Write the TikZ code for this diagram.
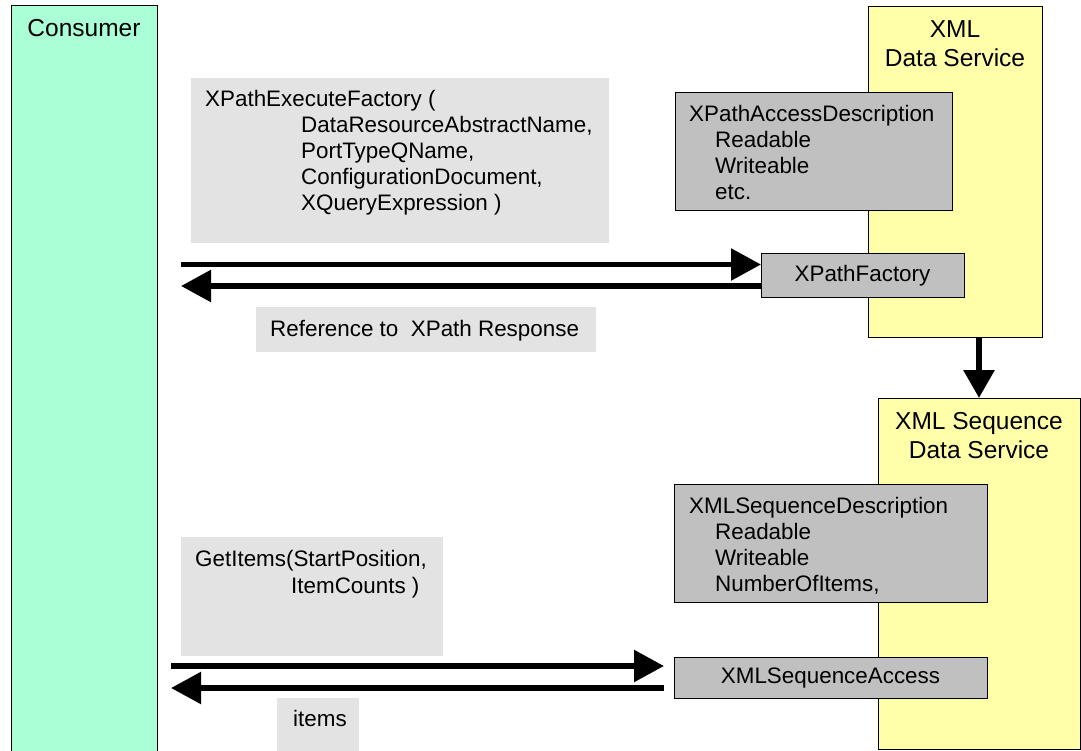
\documentclass[tikz,border=0pt]{standalone}
\usepackage{fontspec}
\setmainfont{Liberation Sans}
\usetikzlibrary{arrows.meta}
\definecolor{mint}{RGB}{170,255,214}
\definecolor{svcyellow}{RGB}{255,255,170}
\definecolor{opgray}{RGB}{192,192,192}
\definecolor{labelgray}{RGB}{227,227,227}
\tikzset{
  boxline/.style={draw=black, line width=1pt, inner sep=0pt, outer sep=0pt, anchor=north west},
  consumerbox/.style={boxline, fill=mint},
  servicebox/.style={boxline, fill=svcyellow},
  opbox/.style={boxline, fill=opgray},
  labelbox/.style={fill=labelgray, inner sep=0pt, outer sep=0pt, anchor=north west},
  bodytext/.style={font=\fontsize{22.4}{26}\selectfont, inner sep=0pt, anchor=base west},
  titletext/.style={font=\fontsize{24.5}{29}\selectfont, inner sep=0pt, anchor=base},
  msg/.style={line width=5.5pt, -{Triangle[length=30pt,width=31pt]}},
}
\begin{document}
\begin{tikzpicture}[x=1pt,y=-1pt]
\path[use as bounding box] (0,0) rectangle (1081,751);
\clip (0,0) rectangle (1081,751);
\fill[white] (0,0) rectangle (1081,751);

% main boxes
\node[consumerbox, minimum width=146pt, minimum height=770pt] (cons) at (11,6) {};
\node[servicebox, minimum width=174pt, minimum height=330pt] (xds) at (868,7) {};
\node[servicebox, minimum width=202pt, minimum height=351pt] (seq) at (878,398) {};

% operation boxes
\node[opbox, minimum width=277pt, minimum height=118pt] (xad) at (675,93) {};
\node[opbox, minimum width=203pt, minimum height=43pt, font=\fontsize{22.4}{26}\selectfont] (xpf) at (761,254) {XPathFactory};
\node[opbox, minimum width=313pt, minimum height=118pt] (xsd) at (674,484) {};
\node[opbox, minimum width=313pt, minimum height=41pt, font=\fontsize{22.4}{26}\selectfont] (xsa) at (674,657) {XMLSequenceAccess};

% label boxes
\node[labelbox, minimum width=418pt, minimum height=165pt] (lab1) at (191,78) {};
\node[labelbox, minimum width=340pt, minimum height=45pt] (lab2) at (256,307) {};
\node[labelbox, minimum width=262pt, minimum height=119pt] (lab3) at (181,537) {};
\node[labelbox, minimum width=82pt, minimum height=70pt] (lab4) at (277,698) {};

% titles
\node[titletext] (tcons) at (84,37) {Consumer};
\node[titletext] (txds1) at (955,38) {XML};
\node[titletext] (txds2) at (955,67) {Data Service};
\node[titletext] (tseq1) at (979,429) {XML Sequence};
\node[titletext] (tseq2) at (979,458) {Data Service};

% description texts
\node[bodytext] (xad1) at (689,122) {XPathAccessDescription};
\node[bodytext] (xad2) at (715,148) {Readable};
\node[bodytext] (xad3) at (715,174) {Writeable};
\node[bodytext] (xad4) at (715,200) {etc.};

\node[bodytext] (xsd1) at (689,513) {XMLSequenceDescription};
\node[bodytext] (xsd2) at (715,539) {Readable};
\node[bodytext] (xsd3) at (715,565) {Writeable};
\node[bodytext] (xsd4) at (715,591) {NumberOfItems,};

% message labels
\node[bodytext] (l1a) at (205,107) {XPathExecuteFactory (};
\node[bodytext] (l1b) at (301,133) {DataResourceAbstractName,};
\node[bodytext] (l1c) at (301,159) {PortTypeQName,};
\node[bodytext] (l1d) at (301,185) {ConfigurationDocument,};
\node[bodytext] (l1e) at (301,211) {XQueryExpression )};

\node[bodytext] (l2) at (270,336) {Reference to\ \ XPath Response};

\node[bodytext] (l3a) at (195,566) {GetItems(StartPosition,};
\node[bodytext] (l3b) at (291,593) {ItemCounts )};

\node[bodytext] (l4) at (293,726) {items};

% arrows
\coordinate (a1) at (181,264.5);
\coordinate (a2) at (181,286);
\draw[msg] (a1) -- (a1 -| xpf.west);
\draw[msg] (xpf.west |- a2) -- (a2);

\coordinate (b1s) at (171,666);
\coordinate (b1e) at (664,666);
\coordinate (b2s) at (664,688);
\coordinate (b2e) at (171,688);
\draw[msg] (b1s) -- (b1e);
\draw[msg] (b2s) -- (b2e);

\draw[line width=6pt, -{Triangle[length=28pt,width=30pt]}] (xds.south -| seq.north) -- (seq.north);
\end{tikzpicture}
\end{document}
